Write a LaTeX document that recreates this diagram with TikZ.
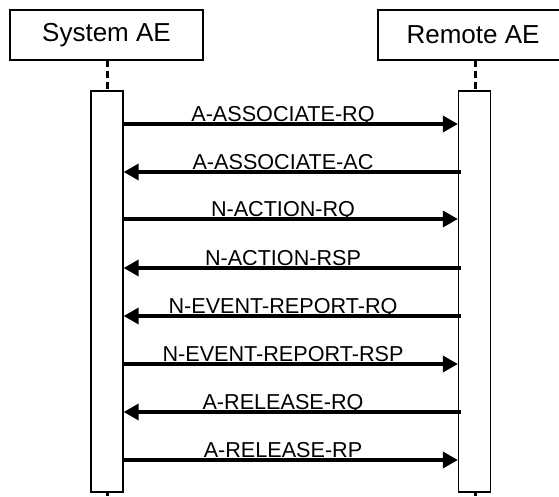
\documentclass[tikz,border=0pt]{standalone}
\usepackage{fontspec}
\setmainfont{Liberation Sans}
\usetikzlibrary{arrows.meta}
\begin{document}
\begin{tikzpicture}[x=1pt,y=-1pt,
  actor/.style={draw, line width=1.7pt, minimum height=50pt, inner sep=0pt, font=\fontsize{26}{31}\selectfont},
  bar/.style={draw, line width=1.3pt, fill=white},
  life/.style={line width=2.3pt, dash pattern=on 7pt off 4pt},
  msg/.style={line width=3.3pt, -{Triangle[length=15pt,width=16pt]}},
  lbl/.style={anchor=base, inner sep=0pt, font=\fontsize{21.6}{26}\selectfont}]
\useasboundingbox (0,0) rectangle (559,497);
\begin{scope}
\clip (0,0) rectangle (559,497);
\node[actor, minimum width=193pt] (sys) at (106.5,35) {System AE};
\node[actor, minimum width=190pt] (rem) at (473,35) {Remote AE};
\end{scope}
\coordinate (sysl) at (107.5,60);
\coordinate (reml) at (475.5,60);
\coordinate (bot) at (0,497);
\draw[life] (sysl) -- (sysl |- bot);
\draw[life] (reml) -- (reml |- bot);
\node[bar, minimum width=32pt, minimum height=401pt, inner sep=0pt] (sysbar) at (107,291.5) {};
\node[bar, minimum width=32pt, minimum height=401pt, inner sep=0pt] (rembar) at (474.5,291.5) {};
\foreach \y/\t/\d [count=\i] in {124/A-ASSOCIATE-RQ/r,172/A-ASSOCIATE-AC/l,219/N-ACTION-RQ/r,268/N-ACTION-RSP/l,316/N-EVENT-REPORT-RQ/l,364/N-EVENT-REPORT-RSP/r,412/A-RELEASE-RQ/l,460/A-RELEASE-RP/r}{
  \coordinate (m\i) at (0,\y);
  \if r\d
    \draw[msg] (sysbar.east |- m\i) -- (rembar.west |- m\i);
  \else
    \draw[msg] ([xshift=3pt]rembar.west |- m\i) -- (sysbar.east |- m\i);
  \fi
  \node[lbl] (t\i) at (283,\y-2.5) {\t};
}
\end{tikzpicture}
\end{document}
